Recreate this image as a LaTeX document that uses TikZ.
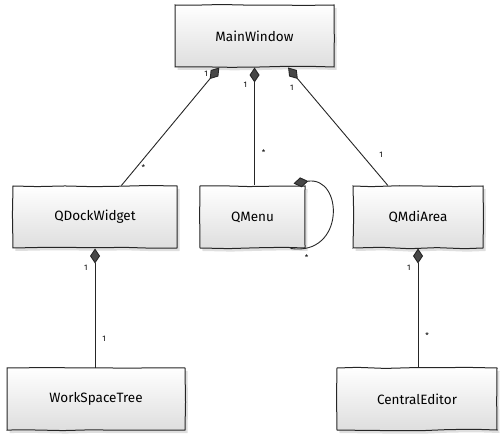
\documentclass[tikz,border=0pt]{standalone}
\usepackage{fontspec}
\setmainfont{Fira Sans}
\usetikzlibrary{arrows.meta,calc,shadows,decorations.pathmorphing}
\tikzset{
  classbox/.style={draw=black!85, line width=1pt, top color=white, bottom color=black!13,
    minimum height=62pt, inner sep=0pt,
    drop shadow={shadow xshift=2.5pt, shadow yshift=-3pt, opacity=.25},
    decorate, decoration={random steps, segment length=28pt, amplitude=.7pt},
    font=\fontsize{13.5}{16}\selectfont},
  comp/.style={{Diamond[length=15pt,width=10pt,fill=black!72]}-, line width=.9pt, draw=black!85},
  mult/.style={font=\fontsize{8}{9}\selectfont, inner sep=1pt},
}
\pgfmathsetseed{7}
\begin{document}
\begin{tikzpicture}[x=1pt,y=-1pt]
  \useasboundingbox (0,0) rectangle (503,435);
  % Klassen
  \node[classbox, minimum width=159pt] (mainwin) at (254.5,36) {MainWindow};
  \node[classbox, minimum width=164pt] (dock) at (95,217) {QDockWidget};
  \node[classbox, minimum width=105pt] (menu) at (252.5,217) {QMenu};
  \node[classbox, minimum width=130pt] (mdi) at (418,217) {QMdiArea};
  \node[classbox, minimum width=178pt] (tree) at (96,399) {WorkSpaceTree};
  \node[classbox, minimum width=160pt] (editor) at (417,399) {CentralEditor};
  % Kompositionen
  \draw[comp] ($(mainwin.south west)!.28!(mainwin.south east)$) --
    node[mult, pos=.05, left=5pt] {1} node[mult, pos=.85, right=4pt] {*}
    ($(dock.north west)!.66!(dock.north east)$);
  \draw[comp] (mainwin.south) --
    node[mult, pos=.15, left=6pt] {1} node[mult, pos=.72, right=6pt] {*}
    (mainwin.south |- menu.north);
  \draw[comp] ($(mainwin.south west)!.71!(mainwin.south east)$) --
    node[mult, pos=.17, left=10pt] {1} node[mult, pos=.74, right=16pt] {1}
    ($(mdi.north west)!.27!(mdi.north east)$);
  \draw[comp] ($(menu.north east)+(-12,-2)$) .. controls +(50,-8) and +(55,8) ..
    node[mult, pos=.97, below right=4pt, xshift=4pt] {*}
    ($(menu.south east)+(-15,0)$);
  \draw[comp] (dock.south) --
    node[mult, pos=.16, left=6pt] {1} node[mult, pos=.76, right=6pt] {1}
    (dock.south |- tree.north);
  \draw[comp] (mdi.south) --
    node[mult, pos=.16, left=6pt] {1} node[mult, pos=.73, right=6pt] {*}
    (mdi.south |- editor.north);
\end{tikzpicture}
\end{document}
